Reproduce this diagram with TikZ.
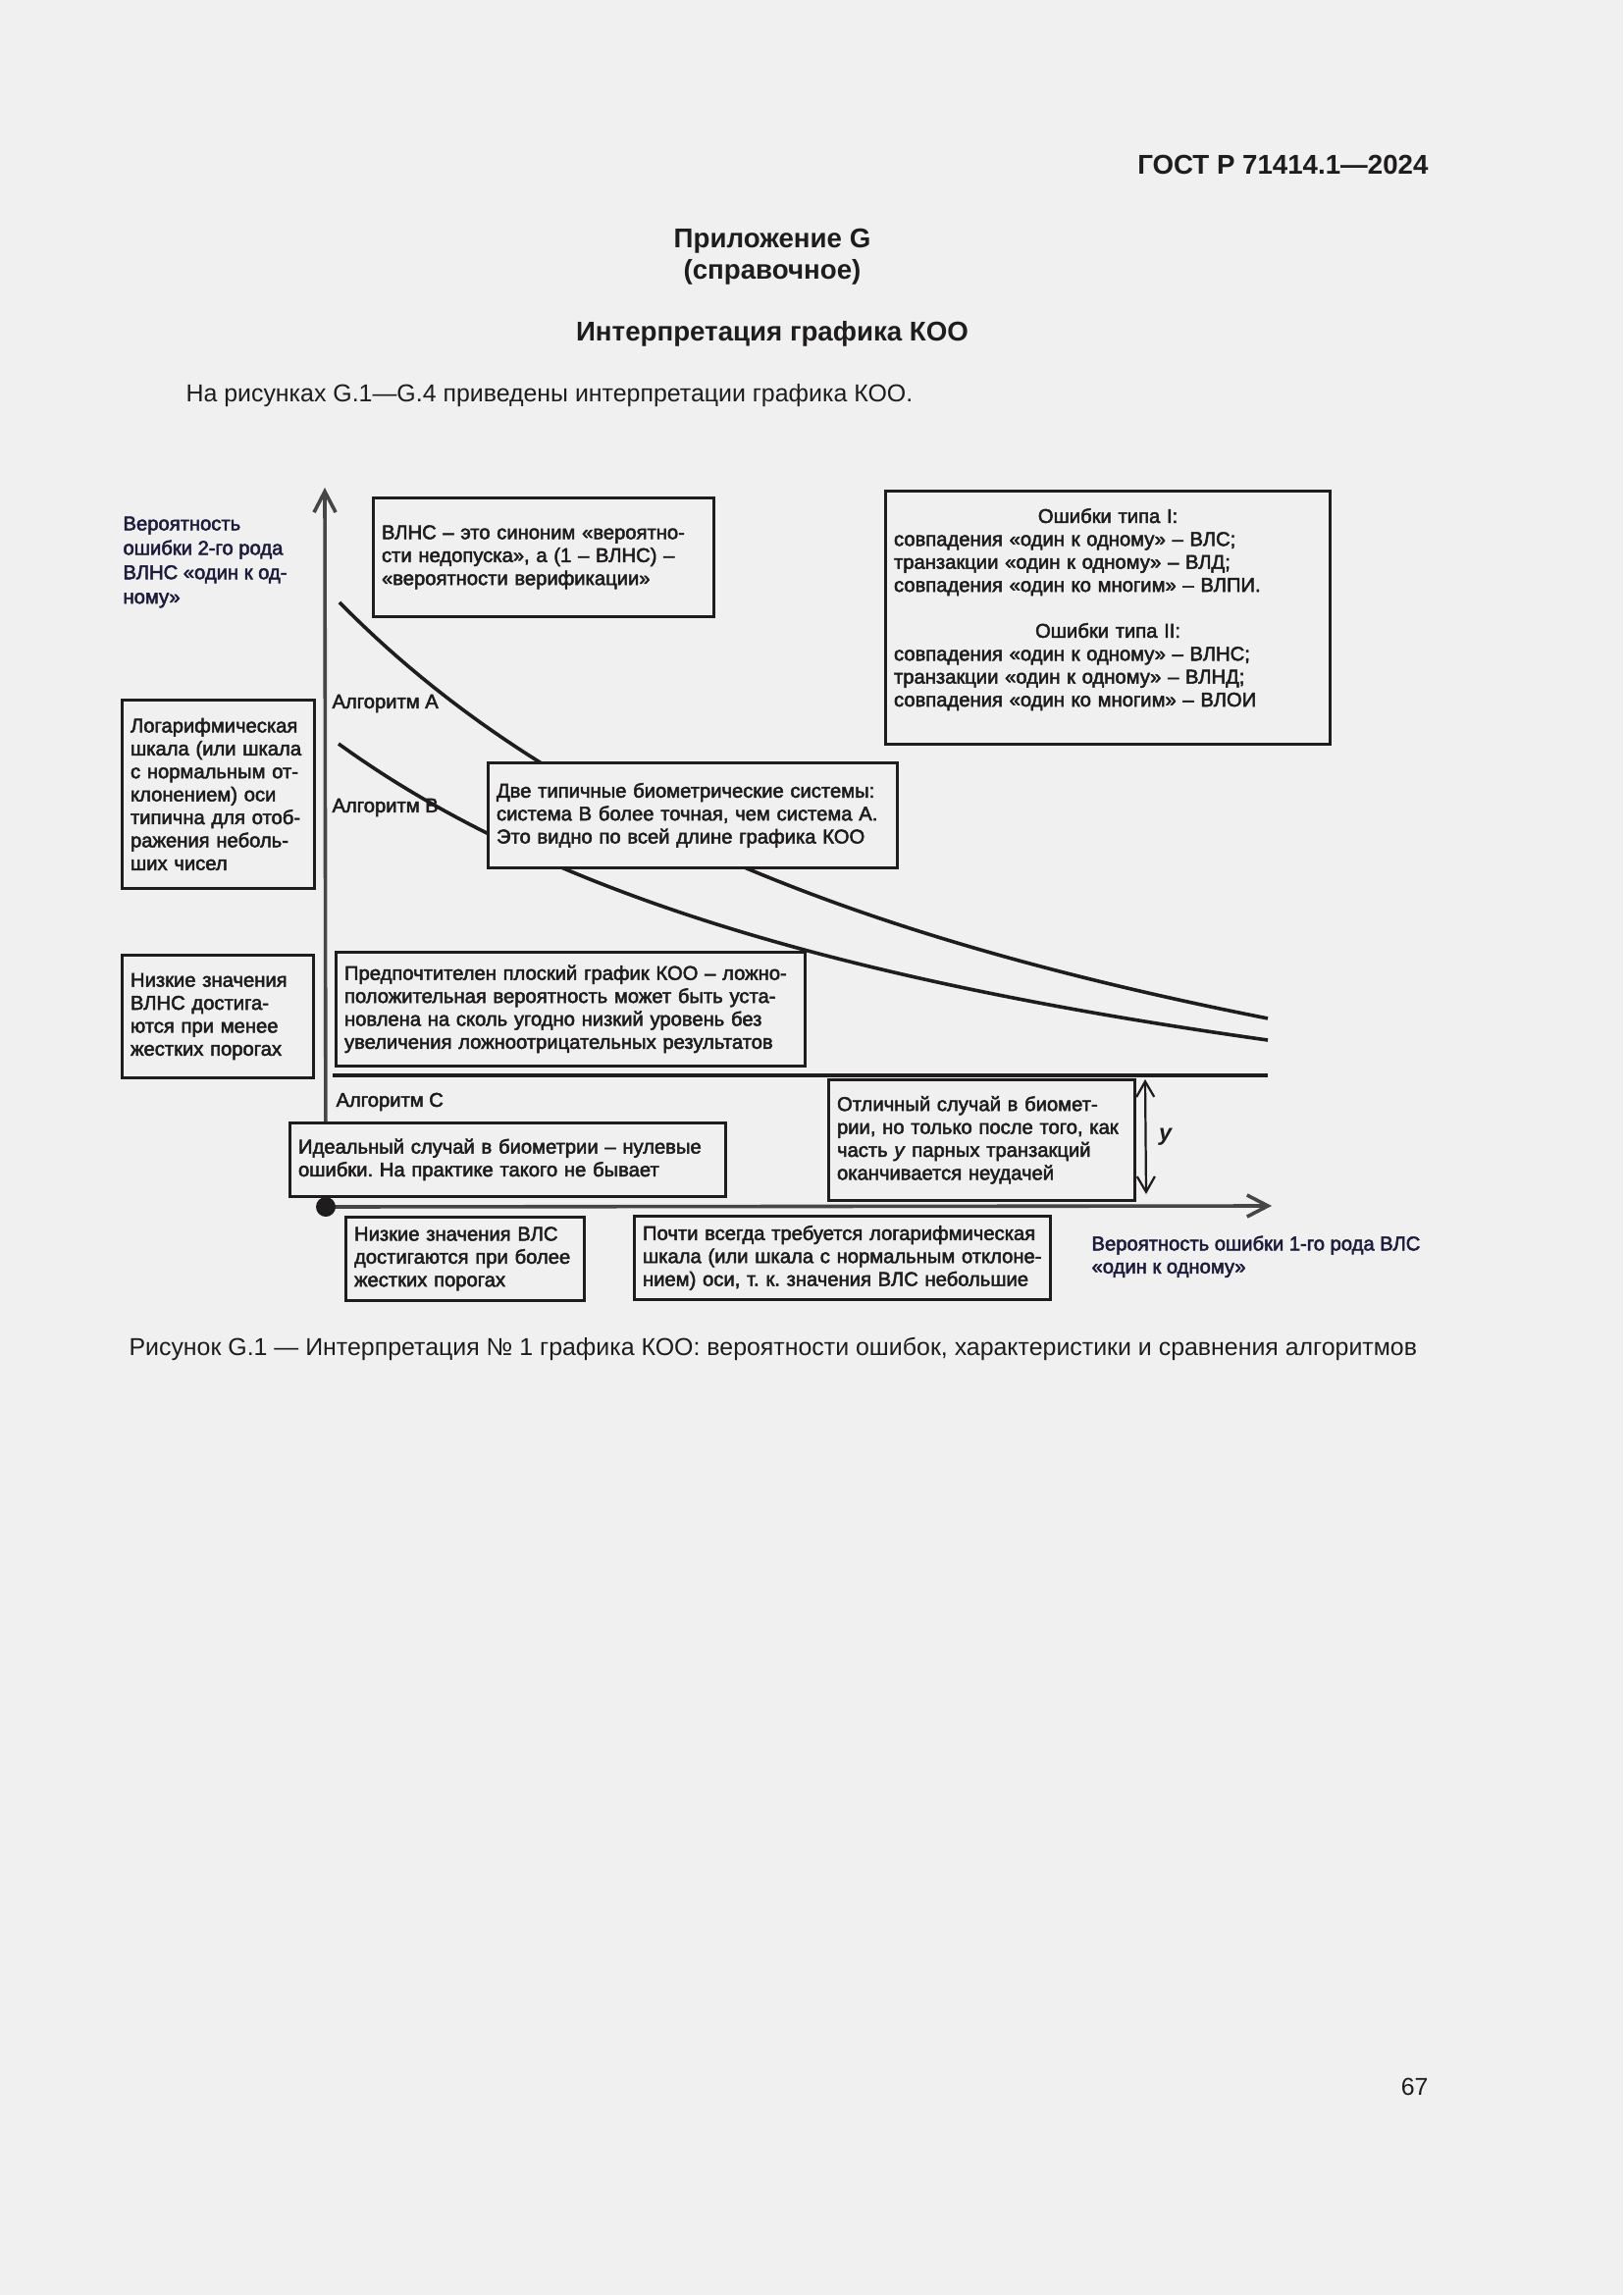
\documentclass[tikz,border=0pt]{standalone}
\usepackage{fontspec}
\setmainfont{Liberation Sans}
\newfontfamily\diagfont{Liberation Sans}[FakeBold=2.5]
\usetikzlibrary{arrows.meta,positioning,backgrounds}
\definecolor{papercolor}{RGB}{240,240,240}
\definecolor{inkcolor}{RGB}{30,28,28}
\definecolor{axiscolor}{RGB}{70,70,70}
\definecolor{labelcolor}{RGB}{28,28,60}
\newlength{\pixunit}
\setlength{\pixunit}{0.127mm}
\frenchspacing

\begin{document}
\begin{tikzpicture}[
    x=\pixunit, y=-\pixunit,
    every node/.style={font=\diagfont\fontsize{7.3}{8.45}\selectfont, text=inkcolor},
    note/.style={rectangle, draw=inkcolor, line width=1pt, fill=papercolor, anchor=north west, align=left, inner xsep=1.1mm, inner ysep=0pt},
    notebox/.style 2 args={note, text width=#1\pixunit, minimum height=#2\pixunit},
    pagetext/.style={font=\fontsize{9}{11}\selectfont, inner sep=0pt},
    pagehead/.style={font=\fontsize{10}{12}\selectfont\bfseries, inner sep=0pt},
    axislabel/.style={anchor=north west, align=left, inner sep=0pt, text=labelcolor},
    algolabel/.style={anchor=west, inner sep=0pt},
    axis/.style={draw=axiscolor, line width=1.3pt, -{Straight Barb[length=2.7mm,width=2.8mm]}},
    curve/.style={draw=inkcolor, line width=1.3pt},
    span/.style={draw=inkcolor, line width=0.8pt, {Straight Barb[length=2mm,width=2.3mm]}-{Straight Barb[length=2mm,width=2.3mm]}}
]

% Page frame
\useasboundingbox (0,0) rectangle (1654,2339);

% Page header and text
\node[pagehead, anchor=east] (gost) at (1456,168) {ГОСТ Р 71414.1—2024};
\node[pagehead] (annex) at (787,246) {Приложение G};
\node[pagehead] (kind) at (787,277) {(справочное)};
\node[pagehead] (title) at (787,340) {Интерпретация графика КОО};
\node[pagetext, anchor=west] (intro) at (189,403) {На рисунках G.1—G.4 приведены интерпретации графика КОО.};

% Axis labels
\node[axislabel, font=\diagfont\fontsize{7.3}{9}\selectfont] (ylabel) at (125,526) {Вероятность\\ошибки 2-го рода\\ВЛНС «один к од-\\ному»};
\node[axislabel] (xlabel) at (1112,1259) {Вероятность ошибки 1-го рода ВЛС\\«один к одному»};

% Notes on the left
\node[notebox={179}{192}] (logscale) at (123,712) {Логарифмическая\\шкала (или шкала\\с нормальным от-\\клонением) оси\\типична для отоб-\\ражения неболь-\\ших чисел};
\node[notebox={178}{125}] (lowfnmr) at (123,972) {Низкие значения\\ВЛНС достига-\\ются при менее\\жестких порогах};

% Notes on the top
\node[notebox={330}{121}] (synonym) at (379,506) {ВЛНС – это синоним «вероятно-\\сти недопуска», а (1 – ВЛНС) –\\«вероятности верификации»};
\node[notebox={436}{258}] (errtypes) at (901,499) {\hfill Ошибки типа I:\hfill\null\\
    совпадения «один к одному» – ВЛС;\\
    транзакции «один к одному» – ВЛД;\\
    совпадения «один ко многим» – ВЛПИ.\\[8.45pt]
    \hfill Ошибки типа II:\hfill\null\\
    совпадения «один к одному» – ВЛНС;\\
    транзакции «один к одному» – ВЛНД;\\
    совпадения «один ко многим» – ВЛОИ\\[-1pt]\mbox{}};

% Algorithm labels
\node[algolabel] (algoA) at (338,717) {Алгоритм А};
\node[algolabel] (algoB) at (338,823) {Алгоритм В};
\node[algolabel] (algoC) at (342,1123) {Алгоритм С};

% Notes inside the plot
\node[notebox={400}{107}] (twosys) at (496,776) {Две типичные биометрические системы:\\система В более точная, чем система А.\\Это видно по всей длине графика КОО};
\node[notebox={461}{116}] (flatroc) at (341,969) {Предпочтителен плоский график КОО – ложно-\\положительная вероятность может быть уста-\\новлена на сколь угодно низкий уровень без\\увеличения ложноотрицательных результатов};
\node[notebox={295}{123}] (goodcase) at (843,1099) {Отличный случай в биомет-\\рии, но только после того, как\\часть \textit{у} парных транзакций\\оканчивается неудачей};
\node[notebox={427}{75}] (ideal) at (294,1143) {Идеальный случай в биометрии – нулевые\\ошибки. На практике такого не бывает};

% Notes below the x axis
\node[notebox={226}{85}] (lowfmr) at (351,1239) {Низкие значения ВЛС\\достигаются при более\\жестких порогах};
\node[notebox={407}{85}] (logx) at (645,1238) {Почти всегда требуется логарифмическая\\шкала (или шкала с нормальным отклоне-\\нием) оси, т. к. значения ВЛС небольшие};

% Origin and axis ends
\node[circle, fill=inkcolor, inner sep=0pt, minimum size=20\pixunit] (origin) at (332,1230) {};
\coordinate (ytip) at (331,497);
\coordinate (xtip) at (1296,1229);
\coordinate (cstart) at (339,1096);
\coordinate (cend) at (1292,1096);
\coordinate (gaptop) at (1167,1100);
\coordinate (gapbot) at (1168,1217);

% Distance y
\draw[span] (gaptop) -- (gapbot) node[midway, anchor=west, xshift=1.6mm, inner sep=0pt, font=\fontsize{8.5}{9}\selectfont\bfseries\itshape] (gap) {у};

% Caption and page number
\node[pagetext, anchor=west] (caption) at (131,1375) {Рисунок G.1 — Интерпретация № 1 графика КОО: вероятности ошибок, характеристики и сравнения алгоритмов};
\node[pagetext, anchor=east] (pagenum) at (1456,2127) {67};

% Axes and curves behind the notes
\begin{scope}[on background layer]
    \fill[papercolor] (0,0) rectangle (1654,2339);
    \draw[axis] (origin.center) -- (ytip);
    \draw[axis] (origin.center) -- (xtip);
    % Algorithm A and B
    \draw[curve] plot[domain=346:1292, samples=80] (\x, {1372.3 - 5657.1/(\x/100 + 4)});
    \draw[curve] plot[domain=345:1292, samples=80] (\x, {1297.6 - 4019.7/(\x/100 + 4)});
    % Algorithm C
    \draw[curve, line width=1.5pt] (cstart) -- (cend);
\end{scope}

\end{tikzpicture}
\end{document}
